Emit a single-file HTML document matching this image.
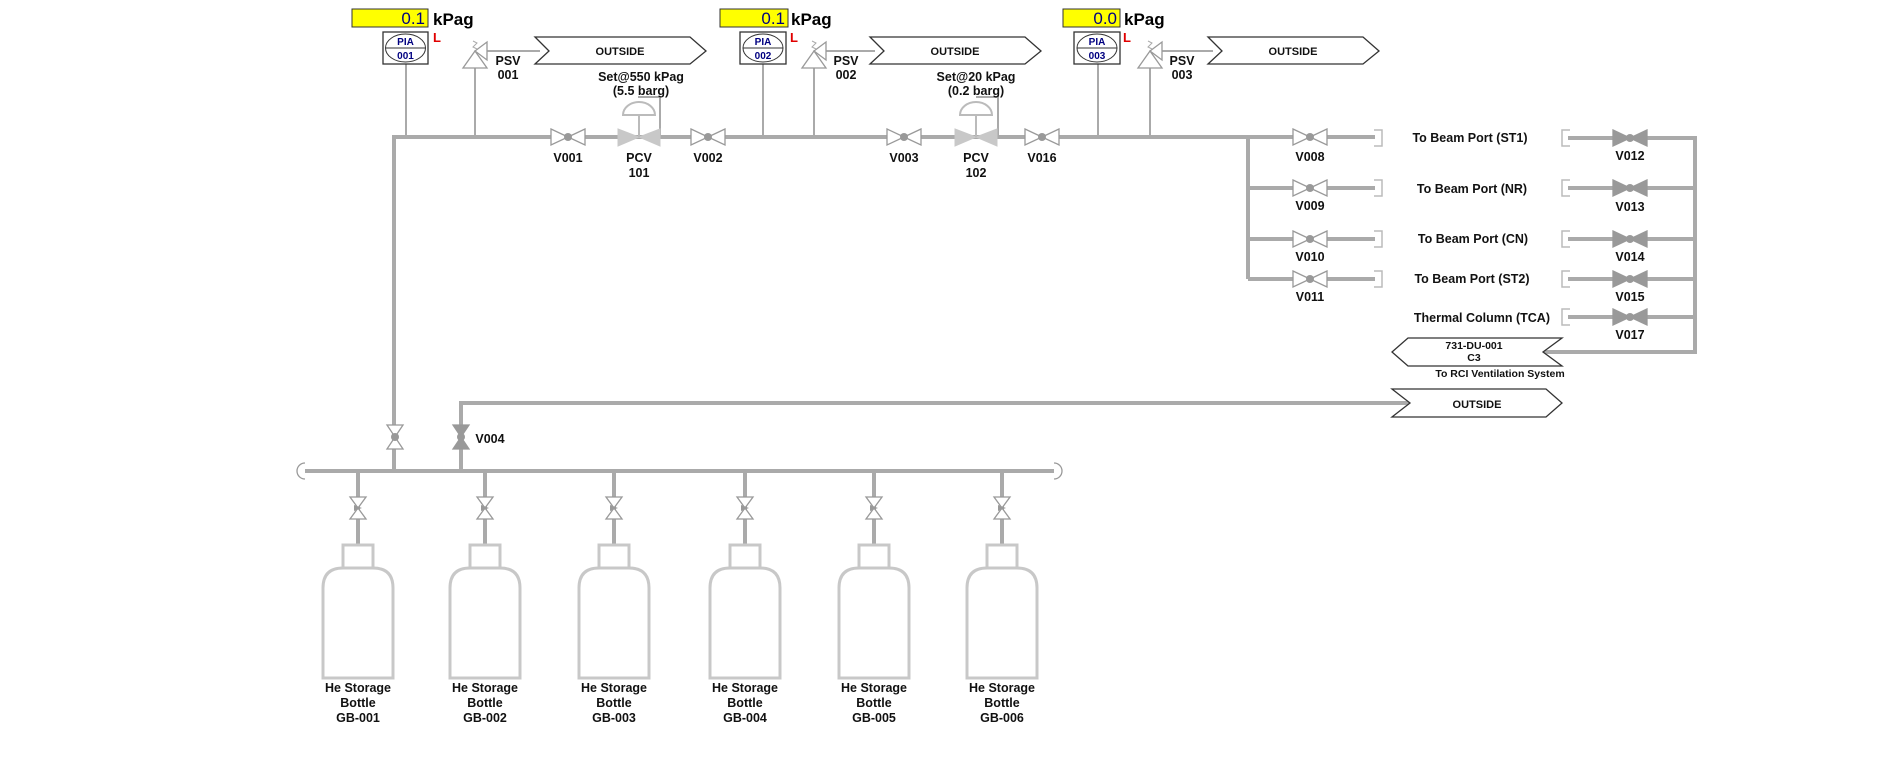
<!DOCTYPE html>
<html><head><meta charset="utf-8"><style>
html,body{margin:0;padding:0;background:#fff;}
svg{display:block;font-family:"Liberation Sans",sans-serif;font-weight:bold;}
</style></head><body>
<svg width="1880" height="760" viewBox="0 0 1880 760" xmlns="http://www.w3.org/2000/svg">
<defs>
<g id="vh"><path d="M-17,-8 L0,0 L-17,8 Z M17,-8 L0,0 L17,8 Z" fill="#fff" stroke="#999" stroke-width="1.3"/><circle r="4" fill="#999"/></g>
<g id="vhc"><path d="M-17,-8 L0,0 L-17,8 Z M17,-8 L0,0 L17,8 Z" fill="#999" stroke="#999" stroke-width="1.3"/><circle r="4" fill="#999"/></g>
<g id="vv"><path d="M-8,-12 L0,0 L8,-12 Z M-8,12 L0,0 L8,12 Z" fill="#fff" stroke="#999" stroke-width="1.3"/><circle r="4" fill="#999"/></g>
<g id="vvc"><path d="M-8,-12 L0,0 L8,-12 Z M-8,12 L0,0 L8,12 Z" fill="#999" stroke="#999" stroke-width="1.3"/><circle r="4" fill="#999"/></g>
<g id="vb"><path d="M-8,-11 L0,0 L8,-11 Z M-8,11 L0,0 L8,11 Z" fill="#fff" stroke="#999" stroke-width="1.3"/><path d="M-4,-3 L4,0 L-4,3 Z" fill="#999"/></g>
<g id="psv"><path d="M0,0 L-12,17 L12,17 Z" fill="#fff" stroke="#999" stroke-width="1.3"/><path d="M0,0 L12,-9 L12,9 Z" fill="#fff" stroke="#999" stroke-width="1.3"/><path d="M-2,-10 L2,-8 L-2,-4 L2,-2" fill="none" stroke="#aaa" stroke-width="1"/></g>
<g id="bottle"><rect x="-15" y="0" width="30" height="23" fill="#fff" stroke="#c8c8c8" stroke-width="3"/><path d="M-35,133 V43 Q-35,23 -15,23 H15 Q35,23 35,43 V133 Z" fill="#fff" stroke="#c8c8c8" stroke-width="3"/></g>
</defs>

<g stroke="#aaa" stroke-width="4" fill="none">
<!-- main line -->
<path d="M394,471 V137 H1248"/>
<path d="M1248,137 V279"/>
<path d="M1248,137 H1375 M1248,188 H1375 M1248,239 H1375 M1248,279 H1375"/>
<path d="M1568,138 H1695 M1568,188 H1695 M1568,239 H1695 M1568,279 H1695 M1568,317 H1695"/>
<path d="M1695,136 V352 H1543"/>
<path d="M461,471 V403 H1410"/>
<path d="M300,471 H1058"/>
<path d="M358,471 V545 M485,471 V545 M614,471 V545 M745,471 V545 M874,471 V545 M1002,471 V545"/>
</g>
<g stroke="#aaa" stroke-width="2" fill="none">
<path d="M406,64 V137 M475,58 V137 M475,51 H540"/>
<path d="M763,64 V137 M814,58 V137 M814,51 H875"/>
<path d="M1098,64 V137 M1150,58 V137 M1150,51 H1213"/>
<path d="M638,97 H660 V137 M976,97 H998 V137"/>
</g>
<!-- end caps -->
<path d="M305,463 A8,8 0 0 0 305,479" fill="#fff" stroke="#999" stroke-width="1.3"/>
<path d="M1054,463 A8,8 0 0 1 1054,479" fill="#fff" stroke="#999" stroke-width="1.3"/>

<!-- brackets -->
<g fill="none" stroke="#bbb" stroke-width="1.5">
<path d="M1374,130 H1382 V146 H1374 M1374,180 H1382 V196 H1374 M1374,231 H1382 V247 H1374 M1374,271 H1382 V287 H1374"/>
<path d="M1570,130 H1562 V146 H1570 M1570,180 H1562 V196 H1570 M1570,231 H1562 V247 H1570 M1570,271 H1562 V287 H1570 M1570,309 H1562 V325 H1570"/>
</g>

<!-- valves -->
<use href="#vh" x="568" y="137"/><use href="#vh" x="708" y="137"/>
<use href="#vh" x="904" y="137"/><use href="#vh" x="1042" y="137"/>
<use href="#vh" x="1310" y="137"/><use href="#vh" x="1310" y="188"/><use href="#vh" x="1310" y="239"/><use href="#vh" x="1310" y="279"/>
<use href="#vhc" x="1630" y="138"/><use href="#vhc" x="1630" y="188"/><use href="#vhc" x="1630" y="239"/><use href="#vhc" x="1630" y="279"/><use href="#vhc" x="1630" y="317"/>
<use href="#vv" x="395" y="437"/><use href="#vvc" x="461" y="437"/>
<use href="#vb" x="358" y="508"/><use href="#vb" x="485" y="508"/><use href="#vb" x="614" y="508"/><use href="#vb" x="745" y="508"/><use href="#vb" x="874" y="508"/><use href="#vb" x="1002" y="508"/>
<use href="#psv" x="475" y="51"/><use href="#psv" x="814" y="51"/><use href="#psv" x="1150" y="51"/>

<!-- PCVs -->
<g fill="#c8c8c8" stroke="#c8c8c8">
<path d="M618,129 L639,137 L618,146 Z M660,129 L639,137 L660,146 Z"/>
<path d="M955,129 L976,137 L955,146 Z M997,129 L976,137 L997,146 Z"/>
</g>
<g fill="#fff" stroke="#bbb" stroke-width="2">
<path d="M623,115 A16,13 0 0 1 655,115 Z"/><path d="M639,115 V137" fill="none"/>
<path d="M960,115 A16,13 0 0 1 992,115 Z"/><path d="M976,115 V137" fill="none"/>
</g>

<!-- bottles -->
<use href="#bottle" x="358" y="545"/><use href="#bottle" x="485" y="545"/><use href="#bottle" x="614" y="545"/>
<use href="#bottle" x="745" y="545"/><use href="#bottle" x="874" y="545"/><use href="#bottle" x="1002" y="545"/>

<!-- arrows -->
<g fill="#fff" stroke="#333" stroke-width="1.3">
<path d="M535,37 H690 L706,51 L690,64 H535 L549,51 Z"/>
<path d="M870,37 H1025 L1041,51 L1025,64 H870 L884,51 Z"/>
<path d="M1208,37 H1363 L1379,51 L1363,64 H1208 L1222,51 Z"/>
<path d="M1392,389 H1546 L1562,403 L1546,417 H1392 L1410,403 Z"/>
<path d="M1408,338 H1562 L1543,352 L1562,366 H1408 L1392,352 Z"/>
</g>

<!-- PIA instruments -->
<g font-size="17">
<rect x="352" y="9" width="76" height="18" fill="#ffff00" stroke="#333" stroke-width="1"/>
<text x="425" y="24" text-anchor="end" font-weight="normal" fill="#000080">0.1</text>
<text x="433" y="25" font-size="17">kPag</text>
<rect x="720" y="9" width="68" height="18" fill="#ffff00" stroke="#333" stroke-width="1"/>
<text x="785" y="24" text-anchor="end" font-weight="normal" fill="#000080">0.1</text>
<text x="791" y="25">kPag</text>
<rect x="1063" y="9" width="57" height="18" fill="#ffff00" stroke="#333" stroke-width="1"/>
<text x="1117" y="24" text-anchor="end" font-weight="normal" fill="#000080">0.0</text>
<text x="1124" y="25">kPag</text>
</g>
<g font-size="10" text-anchor="middle" fill="#000080">
<rect x="383" y="32" width="45" height="32" fill="#fff" stroke="#333" stroke-width="1.3"/>
<ellipse cx="405.5" cy="48" rx="20" ry="14" fill="none" stroke="#333"/><line x1="386" y1="48" x2="425" y2="48" stroke="#333"/>
<text x="405.5" y="45">PIA</text><text x="405.5" y="59">001</text>
<rect x="740" y="32" width="46" height="32" fill="#fff" stroke="#333" stroke-width="1.3"/>
<ellipse cx="763" cy="48" rx="20" ry="14" fill="none" stroke="#333"/><line x1="743" y1="48" x2="783" y2="48" stroke="#333"/>
<text x="763" y="45">PIA</text><text x="763" y="59">002</text>
<rect x="1074" y="32" width="46" height="32" fill="#fff" stroke="#333" stroke-width="1.3"/>
<ellipse cx="1097" cy="48" rx="20" ry="14" fill="none" stroke="#333"/><line x1="1077" y1="48" x2="1117" y2="48" stroke="#333"/>
<text x="1097" y="45">PIA</text><text x="1097" y="59">003</text>
</g>
<g fill="#e00000" font-size="13"><text x="433" y="42">L</text><text x="790" y="42">L</text><text x="1123" y="42">L</text></g>

<!-- labels -->
<g font-size="12.5" text-anchor="middle" fill="#111">
<text x="620" y="55" font-size="11">OUTSIDE</text>
<text x="955" y="55" font-size="11">OUTSIDE</text>
<text x="1293" y="55" font-size="11">OUTSIDE</text>
<text x="1477" y="408" font-size="11">OUTSIDE</text>
<text x="508" y="65">PSV</text><text x="508" y="79">001</text>
<text x="846" y="65">PSV</text><text x="846" y="79">002</text>
<text x="1182" y="65">PSV</text><text x="1182" y="79">003</text>
<text x="641" y="81">Set@550 kPag</text><text x="641" y="95">(5.5 barg)</text>
<text x="976" y="81">Set@20 kPag</text><text x="976" y="95">(0.2 barg)</text>
<text x="568" y="162">V001</text><text x="639" y="162">PCV</text><text x="639" y="177">101</text><text x="708" y="162">V002</text>
<text x="904" y="162">V003</text><text x="976" y="162">PCV</text><text x="976" y="177">102</text><text x="1042" y="162">V016</text>
<text x="1310" y="161">V008</text><text x="1310" y="210">V009</text><text x="1310" y="261">V010</text><text x="1310" y="301">V011</text>
<text x="1630" y="160">V012</text><text x="1630" y="211">V013</text><text x="1630" y="261">V014</text><text x="1630" y="301">V015</text><text x="1630" y="339">V017</text>
<text x="1470" y="142">To Beam Port (ST1)</text>
<text x="1472" y="193">To Beam Port (NR)</text>
<text x="1473" y="243">To Beam Port (CN)</text>
<text x="1472" y="283">To Beam Port (ST2)</text>
<text x="1550" y="322" text-anchor="end">Thermal Column (TCA)</text>
<text x="1474" y="349" font-size="10.5">731-DU-001</text><text x="1474" y="361" font-size="10.5">C3</text>
<text x="1500" y="377" font-size="10.5">To RCI Ventilation System</text>
<text x="490" y="443" text-anchor="middle">V004</text>
</g>
<g font-size="12.5" text-anchor="middle" fill="#111">
<text x="358" y="692">He Storage</text><text x="358" y="707">Bottle</text><text x="358" y="722">GB-001</text>
<text x="485" y="692">He Storage</text><text x="485" y="707">Bottle</text><text x="485" y="722">GB-002</text>
<text x="614" y="692">He Storage</text><text x="614" y="707">Bottle</text><text x="614" y="722">GB-003</text>
<text x="745" y="692">He Storage</text><text x="745" y="707">Bottle</text><text x="745" y="722">GB-004</text>
<text x="874" y="692">He Storage</text><text x="874" y="707">Bottle</text><text x="874" y="722">GB-005</text>
<text x="1002" y="692">He Storage</text><text x="1002" y="707">Bottle</text><text x="1002" y="722">GB-006</text>
</g>
</svg>
</body></html>
